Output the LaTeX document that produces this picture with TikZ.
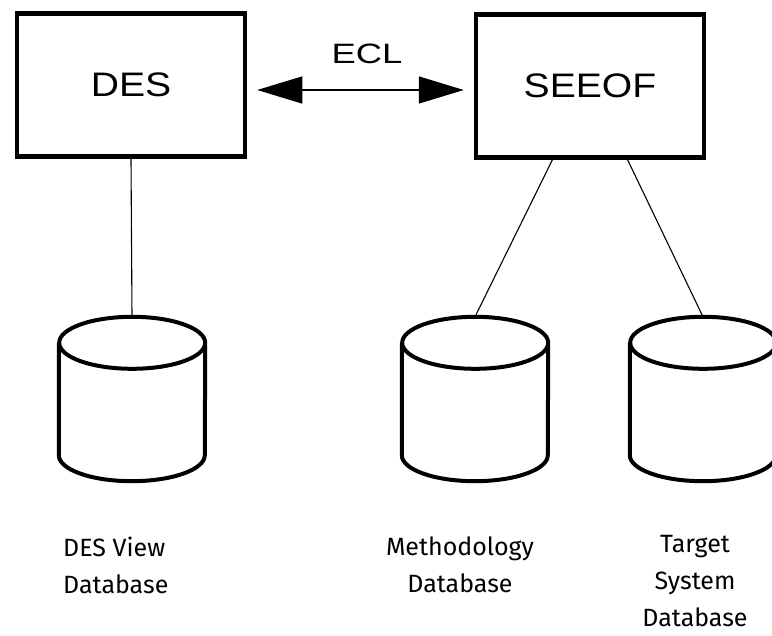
\documentclass[tikz,border=0pt]{standalone}
\usepackage{fontspec}
\usepackage{tikz}
\usetikzlibrary{arrows.meta,positioning}
\newfontfamily\boxfont[FakeStretch=1.15]{Liberation Sans}
\newfontfamily\eclfont[FakeStretch=1.3]{Liberation Sans}
\newfontfamily\labelfont{Fira Sans}

\tikzset{
    system/.style={draw, line width=4.5pt, minimum width=228pt, minimum height=143pt,
        inner sep=0pt, font=\boxfont\fontsize{34}{40}\selectfont},
    database/.style={minimum width=146pt, minimum height=164pt, inner sep=0pt},
    dblabel/.style={font=\labelfont\fontsize{25}{37}\selectfont, inner sep=0pt},
    link/.style={line width=1.1pt}
}

\begin{document}
\begin{tikzpicture}
    \useasboundingbox (0pt,0pt) rectangle (772pt,-636pt);

    \node[system] (des) at (131pt,-85pt) {DES};
    \node[system] (seeof) at (590pt,-86pt) {SEEOF};
    \node[font=\eclfont\fontsize{28}{34}\selectfont, inner sep=0pt] (ecl) at (367pt,-54pt) {ECL};

    \node[database] (desview) at (132pt,-399pt) {};
    \node[database] (method) at (475pt,-399pt) {};
    \node[database] (target) at (703pt,-399pt) {};

    \foreach \db in {desview,method,target}
        \draw[line width=4pt, fill=white]
            ([yshift=-26pt]\db.north west) -- ([yshift=26pt]\db.south west)
            arc[start angle=180, end angle=360, x radius=73pt, y radius=26pt]
            -- ([yshift=-26pt]\db.north east)
            arc[start angle=0, end angle=360, x radius=73pt, y radius=26pt];

    \node[dblabel, anchor=base west, align=left] (desviewtxt) at (63pt,-593pt) {DES View\\Database};
    \node[dblabel, anchor=base, align=center] (methodtxt) at (460pt,-592pt) {Methodology\\Database};
    \node[dblabel, anchor=base, align=center] (targettxt) at (695pt,-626pt) {Target\\System\\Database};

    \draw[line width=1.5pt, {Triangle[length=45pt,width=27pt]}-{Triangle[length=45pt,width=27pt]},
        shorten <=10pt, shorten >=10pt]
        ([yshift=-5pt]des.east) -- ([yshift=-4pt]seeof.west);

    \draw[link] (des.south) -- (desview.north);
    \draw[link] (seeof.-117) -- (method.north);
    \draw[link] (seeof.-63) -- (target.north);
\end{tikzpicture}
\end{document}
